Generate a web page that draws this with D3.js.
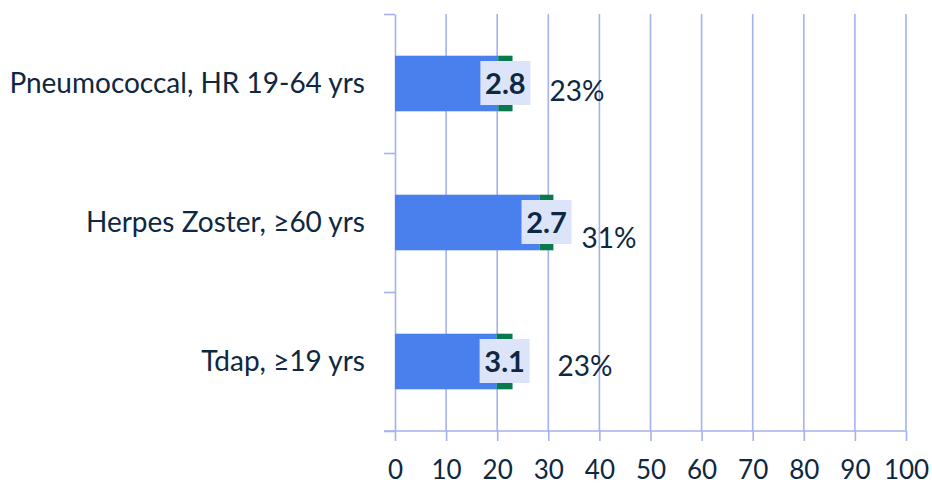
<!DOCTYPE html>
<html>
<head>
<meta charset="utf-8">
<script src="https://cdn.jsdelivr.net/npm/d3@7"></script>
<style>
  html, body { margin: 0; padding: 0; background: #ffffff; }
  svg { display: block; }
  text { font-family: Lato, "Open Sans", sans-serif; fill: #0e2841; }
</style>
</head>
<body>
<svg id="chart" width="932" height="485"></svg>
<script>
// Vaccination coverage (%) by vaccine group, with the percentage-point change
const categories = ["Pneumococcal, HR 19-64 yrs", "Herpes Zoster, \u226560 yrs", "Tdap, \u226519 yrs"];
const coverage = [23, 31, 23];          // total coverage, %
const change = [2.8, 2.7, 3.1];         // increase, percentage points
const xTicks = [0, 10, 20, 30, 40, 50, 60, 70, 80, 90, 100];

const svg = d3.select("#chart");
const plotLeft = 395, plotRight = 906, plotTop = 14, plotBottom = 431;

const x = d3.scaleLinear().domain([0, 100]).range([plotLeft, plotRight]);
const y = d3.scaleBand().domain(categories).range([plotTop, plotBottom]);
const barH = y.step() * 0.4;
const gridColor = "#a6b1f0";

// vertical gridlines
svg.append("g")
  .selectAll("line")
  .data(xTicks.slice(1))
  .join("line")
  .attr("x1", d => x(d)).attr("x2", d => x(d))
  .attr("y1", plotTop).attr("y2", plotBottom)
  .attr("stroke", gridColor).attr("stroke-width", 1.6);

// bottom axis
const xAxis = svg.append("g")
  .attr("transform", `translate(0,${plotBottom})`)
  .call(d3.axisBottom(x).tickValues(xTicks).tickSizeInner(10).tickSizeOuter(0).tickPadding(20));
xAxis.select(".domain").attr("stroke", gridColor).attr("stroke-width", 1.6)
  .attr("d", `M${plotLeft - 11},0H${plotRight}`);
xAxis.selectAll(".tick line").attr("stroke", gridColor).attr("stroke-width", 1.6);
xAxis.selectAll(".tick text")
  .style("font-family", "Lato, sans-serif").style("font-size", "26px").attr("fill", "#0e2841");

// left axis with ticks at the category boundaries
const yEdge = d3.scaleLinear().domain([0, categories.length]).range([plotTop, plotBottom]);
const yAxis = svg.append("g")
  .attr("transform", `translate(${plotLeft},0)`)
  .call(d3.axisLeft(yEdge).tickValues(d3.range(categories.length + 1)).tickFormat("")
    .tickSizeInner(11).tickSizeOuter(0));
yAxis.select(".domain").attr("stroke", gridColor).attr("stroke-width", 1.6);
yAxis.selectAll(".tick line").attr("stroke", gridColor).attr("stroke-width", 1.6);

// category labels
svg.append("g")
  .selectAll("text")
  .data(categories)
  .join("text")
  .attr("x", plotLeft - 30)
  .attr("y", d => y(d) + y.bandwidth() / 2)
  .attr("dy", "0.35em")
  .attr("text-anchor", "end")
  .style("font-size", "28px")
  .text(d => d);

const rows = categories.map((c, i) => ({
  cat: c, total: coverage[i], change: change[i], base: coverage[i] - change[i]
}));

// base segment
svg.append("g")
  .selectAll("rect")
  .data(rows)
  .join("rect")
  .attr("x", x(0))
  .attr("y", d => y(d.cat) + (y.bandwidth() - barH) / 2)
  .attr("width", d => x(d.base) - x(0))
  .attr("height", barH)
  .attr("fill", "#4a80ee");

// change segment
svg.append("g")
  .selectAll("rect")
  .data(rows)
  .join("rect")
  .attr("x", d => x(d.base))
  .attr("y", d => y(d.cat) + (y.bandwidth() - barH) / 2)
  .attr("width", d => x(d.total) - x(d.base))
  .attr("height", barH)
  .attr("fill", "#087a4e");

// change value labels on a light box
const boxW = 50, boxH = 44;
const boxes = svg.append("g")
  .selectAll("g")
  .data(rows)
  .join("g")
  .attr("transform", d => `translate(${(x(d.base) + x(d.total)) / 2},${y(d.cat) + y.bandwidth() / 2})`);
boxes.append("rect")
  .attr("x", -boxW / 2).attr("y", -boxH / 2 - 0.5)
  .attr("width", boxW).attr("height", boxH)
  .attr("fill", "#dce4fa");
boxes.append("text")
  .attr("text-anchor", "middle")
  .attr("dy", "0.36em")
  .style("font-size", "29px")
  .style("font-weight", "bold")
  .text(d => d.change.toFixed(1));

// total coverage labels
const pctNudge = [[37, 17], [28, 25], [45, 14]];
svg.append("g")
  .selectAll("text")
  .data(rows)
  .join("text")
  .attr("x", (d, i) => x(d.total) + pctNudge[i][0])
  .attr("y", (d, i) => y(d.cat) + y.bandwidth() / 2 + pctNudge[i][1])
  .style("font-size", "28px")
  .text(d => d3.format("d")(d.total) + "%");
</script>
</body>
</html>
